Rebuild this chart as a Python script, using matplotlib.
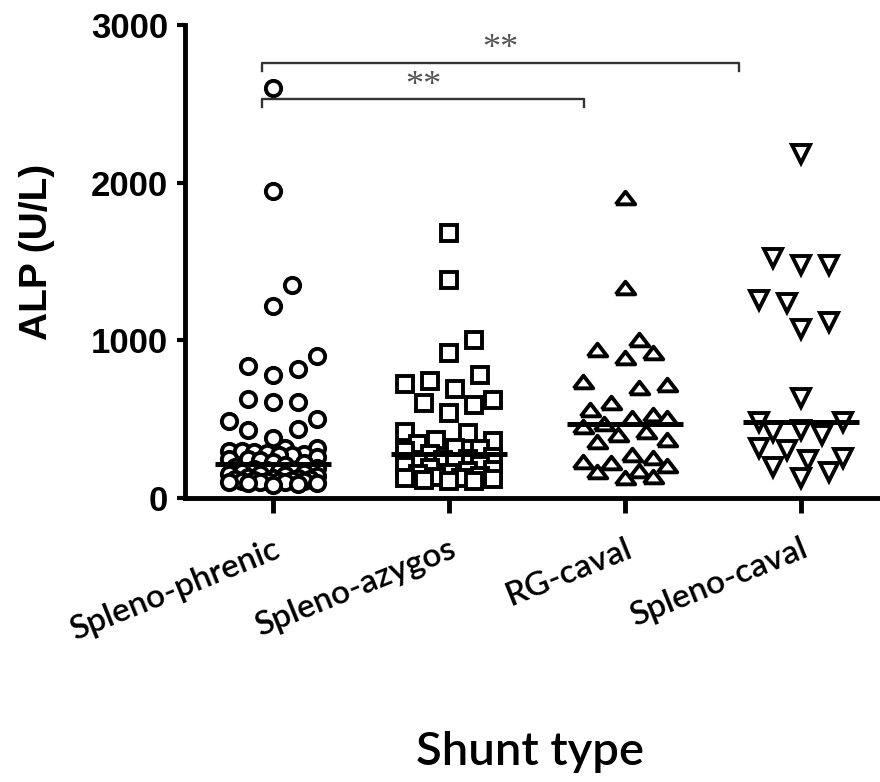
import numpy as np
import matplotlib.pyplot as plt

# ALP values (U/L), one list per shunt type
groups = ['Spleno-phrenic', 'Spleno-azygos', 'RG-caval', 'Spleno-caval']

alp_phrenic = [2600, 1950, 1350, 1220, 900, 840, 820, 780, 630, 610, 610, 500, 490, 440, 430, 380, 320, 320,
               300, 295, 290, 285, 280, 270, 270, 260, 250, 245, 240, 230, 220, 210,
               195, 190, 185, 180, 175, 170, 165, 160, 155, 150, 145, 140, 135, 130, 125, 120,
               120, 115, 115, 110, 110, 105, 105, 100, 100, 100, 95, 95, 90, 85]
alp_azygos = [1680, 1380, 1000, 920, 780, 740, 720, 690, 620, 600, 590, 540, 420, 410, 370, 360, 340,
              320, 310, 300, 280,
              260, 250, 240, 230, 220, 210, 200, 190, 180, 170, 160, 150, 140, 135, 130, 125, 120,
              115, 110, 105]
alp_rg = [1900, 1330, 1000, 940, 920, 890, 735, 715, 700, 600, 560, 525, 510, 505, 470,
          450, 420, 400, 365, 355, 270, 255, 230, 220, 200, 170, 165, 135, 130]
alp_caval = [2180, 1525, 1475, 1475, 1255, 1235, 1115, 1075, 635, 480, 480,
             430, 420, 400, 315, 305, 255, 240, 195, 165, 125]

alp_all = [alp_phrenic, alp_azygos, alp_rg, alp_caval]

# significance brackets
sig_left = [-0.06, -0.06]
sig_right = [1.77, 2.65]
sig_y = [2530, 2760]
sig_text = ['**', '**']

up_tri = [(-1, -0.6), (1, -0.6), (0, 0.7), (-1, -0.6)]
markers = ['o', 's', up_tri, 'v']
msizes = [11, 11, 14, 13]
gaps = [25, 25, 28, 28]

fig = plt.figure(figsize=(8.8, 7.82), dpi=100)
ax = fig.add_axes([185/880, (782-498)/782, (880-185)/880, (498-25)/782])
ax.set_xlim(-0.5, 3.45)
ax.set_ylim(0, 3000)


def swarm(xc, vals, gap=25, maxoff=48):
    # greedy beeswarm in pixel space, lowest values first
    step = gap/4
    vals = np.asarray(vals, dtype=float)
    pts = ax.transData.transform(np.column_stack([np.full(len(vals), xc), vals]))
    cands = [0]
    k = 1
    while k*step <= maxoff:
        cands += [k*step, -k*step]
        k += 1
    placed = []
    out = np.zeros(len(vals))
    for i in np.argsort(vals, kind='stable'):
        px, py = pts[i]
        best, bestd = 0, -1
        for c in cands:
            if placed:
                d = min(np.hypot(px + c - qx, py - qy) for qx, qy in placed)
            else:
                d = np.inf
            if d >= gap:
                best = c
                break
            if d > bestd:
                best, bestd = c, d
        placed.append((px + best, py))
        out[i] = px + best
    return ax.transData.inverted().transform(np.column_stack([out, pts[:, 1]]))[:, 0]


for i, vals in enumerate(alp_all):
    xs = swarm(i, vals, gap=gaps[i])
    ax.plot(xs, vals, ls='none', marker=markers[i], ms=msizes[i], mfc='white',
            mec='black', mew=2.8, clip_on=False, zorder=3)
    med = np.median(vals)
    ax.plot([i - 0.33, i + 0.33], [med, med], color='black', lw=3.6, zorder=4,
            solid_capstyle='butt')

for xl, xr, yb, t in zip(sig_left, sig_right, sig_y, sig_text):
    ax.plot([xl, xl, xr, xr], [yb - 50, yb, yb, yb - 50], color='#333333', lw=1.7,
            clip_on=False, zorder=5)
    ax.text((xl + xr)/2, yb - 22, t, ha='center', va='bottom', fontsize=26,
            family='Liberation Serif', color='#555555')

for s in ['top', 'right']:
    ax.spines[s].set_visible(False)
for s in ['left', 'bottom']:
    ax.spines[s].set_linewidth(3.5)

ax.set_yticks([0, 1000, 2000, 3000])
ax.set_yticklabels(['0', '1000', '2000', '3000'], fontsize=25, fontweight='bold',
                   family='Liberation Sans')
ax.tick_params(axis='y', length=6, width=3, pad=6)
ax.set_xticks(range(4))
ax.set_xticklabels(groups, rotation=22, ha='right', va='top', rotation_mode='anchor',
                   fontsize=24, fontweight='semibold', family='Lato')
ax.tick_params(axis='x', length=11, width=3.5, pad=15)

fig.text(37/880, 1 - 252/782, 'ALP (U/L)', rotation=90, ha='center', va='center',
         fontsize=28, fontweight='bold', family='Liberation Sans')
fig.text(530/880, 1 - 752/782, 'Shunt type', ha='center', va='center',
         fontsize=34, fontweight='semibold', family='Lato')

fig.savefig('out.png', dpi=100)
